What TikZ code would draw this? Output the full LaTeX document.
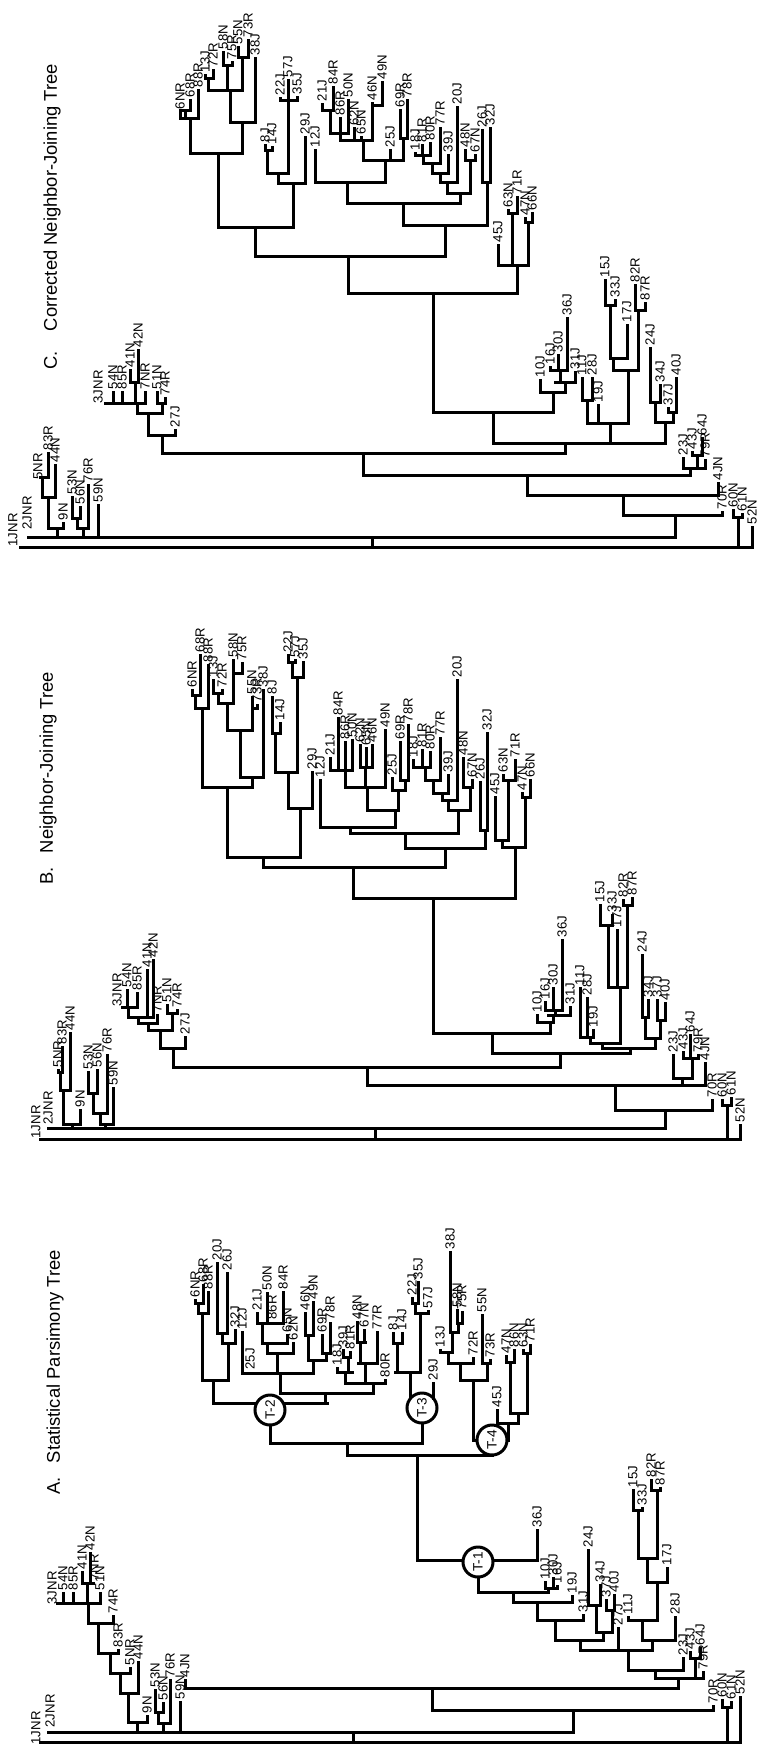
\documentclass[tikz,border=0pt]{standalone}
\usepackage{fontspec}
\setmainfont{Liberation Sans}
\begin{document}
\begin{tikzpicture}[
  x=0.5pt, y=-0.5pt,
  br/.style={line width=1.5pt, line cap=rect},
  lab/.style={rotate=90, anchor=west, inner sep=0.6pt, font=\fontsize{6.6}{7}\selectfont},
  tc/.style={circle, draw, fill=white, line width=1.5pt, minimum size=15pt, inner sep=0pt, rotate=90, font=\fontsize{6.8}{7}\selectfont},
  ttl/.style={rotate=90, anchor=west, inner sep=0pt, font=\fontsize{9.2}{11}\selectfont}
]
\useasboundingbox (0,0) rectangle (757,1747);

% Titles
\node[ttl] (ttlA) at (55,1495) {A.\hspace{7pt}Statistical Parsimony Tree};
\node[ttl] (ttlB) at (48,885) {B.\hspace{7pt}Neighbor-Joining Tree};
\node[ttl] (ttlC) at (52,370) {C.\hspace{10pt}Corrected Neighbor-Joining Tree};

%%%%%%%%%%%%%%%% A. Statistical parsimony tree
% connectors
\foreach \y/\a/\b in {1742/40/740, 1732/48/573, 1722/128/147, 1693/120/138, 1673/110/130,
  1653/98/118, 1623/88/113, 1603/57/100, 1583/82/93, 1723/158/170, 1712/155/163,
  1710/432/713, 1688/185/678, 1707/722/731, 1678/655/703, 1658/690/700, 1670/628/683,
  1650/580/652, 1640/642/675, 1620/628/657, 1582/647/667, 1558/638/657, 1510/633/642,
  1490/651/660, 1640/555/603, 1632/596/612, 1605/588/600, 1610/606/614, 1620/537/583,
  1602/513/572, 1592/478/548, 1588/545/557, 1560/417/537, 1455/347/492, 1443/270/422,
  1403/213/327, 1380/202/228, 1313/198/208, 1303/195/203, 1343/222/235, 1333/217/227,
  1393/280/373, 1373/242/313, 1353/267/293, 1343/262/287, 1323/257/283, 1360/308/326,
  1335/305/313, 1353/322/330, 1383/345/385, 1372/337/352, 1357/343/350, 1363/358/377,
  1342/357/365, 1372/395/420, 1343/393/402, 1313/415/428, 1303/412/418, 1440/473/508,
  1423/497/518, 1413/510/527, 1362/506/514, 1353/523/530, 1380/460/487, 1363/448/473,
  1352/440/452, 1332/450/458, 1323/457/462, 1363/482/490}
  \draw[br] (\a,\y) -- (\b,\y);
% inner branches
\foreach \x/\a/\b in {353/1732/1742, 137/1732/1722, 128/1722/1693, 120/1693/1673, 110/1673/1653,
  98/1653/1623, 88/1623/1603, 87/1603/1583, 163/1732/1723, 158/1723/1712, 573/1732/1710,
  432/1710/1688, 727/1742/1707, 678/1688/1678, 695/1678/1658, 655/1678/1670, 628/1670/1650,
  652/1650/1640, 580/1650/1640, 642/1640/1620, 657/1620/1582, 647/1582/1558, 638/1558/1510,
  657/1558/1490, 603/1640/1632, 596/1632/1605, 612/1632/1610, 555/1640/1620, 537/1620/1602,
  513/1602/1592, 548/1592/1588, 478/1592/1562, 417/1560/1455, 347/1455/1443, 270/1443/1403,
  213/1403/1380, 202/1380/1313, 198/1313/1303, 228/1380/1343, 222/1343/1333, 325/1403/1393,
  280/1393/1373, 277/1373/1353, 267/1353/1343, 262/1343/1323, 313/1373/1360, 308/1360/1335,
  326/1360/1353, 373/1393/1383, 345/1383/1372, 348/1372/1357, 365/1383/1363, 360/1363/1342,
  422/1443/1408, 410/1372/1408, 397/1372/1343, 420/1372/1313, 415/1313/1303, 473/1440/1380,
  460/1380/1363, 448/1363/1352, 452/1352/1332, 458/1332/1323, 487/1380/1363, 508/1440/1423,
  518/1423/1413, 510/1413/1362, 527/1413/1353, 492/1455/1440}
  \draw[br] (\x,\a) -- (\x,\b);
% circled nodes
\node[tc] (T1) at (478,1562) {T-1};
\node[tc] (T2) at (270,1410) {T-2};
\node[tc] (T3) at (422,1408) {T-3};
\node[tc] (T4) at (492,1440) {T-4};
% leaves
\foreach \x/\t/\b/\n in {147/1716/1722/9N, 138/1662/1693/44N, 130/1668/1673/5NR, 118/1650/1653/83R,
  113/1616/1623/74R, 100/1593/1603/51N, 63/1593/1603/54N, 73/1593/1603/85R, 82/1572/1583/41N,
  90/1553/1583/42N, 155/1690/1712/53N, 163/1703/1712/56N, 170/1680/1723/76R, 180/1702/1732/59N,
  713/1706/1710/70R, 185/1680/1688/4JN, 722/1700/1707/60N, 731/1702/1707/61N, 740/1697/1742/52N,
  703/1672/1678/79R, 690/1652/1658/43J, 700/1648/1658/64J, 683/1658/1670/23J, 618/1628/1650/27J,
  675/1617/1640/28J, 628/1617/1620/11J, 667/1568/1582/17J, 633/1490/1510/15J, 642/1508/1510/33J,
  651/1480/1490/82R, 660/1488/1490/87R, 588/1550/1605/24J, 600/1585/1605/34J, 606/1600/1610/37J,
  614/1595/1610/40J, 583/1615/1620/31J, 572/1596/1602/19J, 545/1582/1588/10J, 553/1578/1588/30J,
  557/1586/1588/16J, 537/1530/1560/36J, 195/1300/1303/6NR, 203/1285/1303/68R, 208/1292/1313/88R,
  217/1263/1333/20J, 227/1273/1333/26J, 235/1330/1343/32J, 242/1332/1373/12J, 257/1313/1323/21J,
  267/1293/1323/50N, 283/1292/1323/84R, 287/1335/1343/65N, 293/1343/1353/62N, 305/1313/1335/46N,
  313/1302/1335/49N, 322/1335/1353/69R, 330/1323/1353/78R, 385/1380/1383/80R, 337/1368/1372/18J,
  343/1350/1357/39J, 350/1352/1357/81R, 357/1322/1342/48N, 364/1330/1342/67N, 377/1332/1363/77R,
  393/1333/1343/8J, 402/1333/1343/14J, 412/1298/1303/22J, 418/1282/1303/35J, 428/1311/1313/57J,
  433/1383/1398/29J, 497/1410/1423/45J, 506/1356/1362/47N, 514/1350/1362/86N, 523/1350/1353/63N,
  530/1345/1353/71R, 440/1350/1352/13J, 450/1252/1332/38J, 457/1310/1323/58N, 462/1312/1323/75R,
  473/1358/1363/72R, 482/1315/1363/55N, 490/1360/1363/73R}
  \draw[br] (\x,\b) -- (\x,\t) node[lab] (A-\n) {\n};
\foreach \x/\y/\n in {36/1746/1JNR, 50/1729/2JNR, 52/1606/3JNR, 94/1582/7NR, 272/1321/86R, 250/1371/25J}
  \node[lab] (A-\n) at (\x,\y) {\n};

%%%%%%%%%%%%%%%% B. Neighbor-joining tree
% connectors
\foreach \y/\a/\b in {1139/40/740, 1128/48/665, 1124/63/80, 1090/60/70, 1072/58/62, 1124/100/113,
  1113/93/107, 1093/88/97, 1110/615/712, 1085/367/705, 1078/673/692, 1058/683/698, 1105/722/731,
  1067/173/560, 1048/160/185, 1030/148/172, 1013/167/177, 1023/138/157, 1017/128/153, 1007/122/137,
  1053/492/630, 1048/602/655, 1043/590/620, 1037/580/593, 987/608/627, 925/600/612, 905/623/632,
  1038/645/660, 1017/642/648, 1020/657/665, 1033/433/550, 1022/537/553, 1015/548/570, 1010/545/562,
  898/353/515, 847/502/525, 840/495/508, 780/503/515, 797/522/530, 867/263/445, 857/227/300,
  787/202/252, 708/195/208, 695/192/200, 777/240/263, 730/227/252, 703/218/233, 693/213/222,
  673/233/242, 708/252/257, 808/288/312, 772/275/297, 733/272/280, 677/292/303, 662/288/295,
  848/405/485, 830/480/487, 833/350/458, 827/320/395, 810/367/398, 790/392/405, 780/400/408,
  787/345/385, 770/330/352, 767/360/372, 810/448/470, 800/442/457, 793/433/448, 780/425/440,
  767/413/430, 787/463/472}
  \draw[br] (\a,\y) -- (\b,\y);
% inner branches
\foreach \x/\a/\b in {375/1128/1139, 72/1128/1124, 63/1124/1090, 60/1090/1072, 105/1128/1124,
  100/1124/1113, 93/1113/1093, 665/1128/1110, 615/1110/1085, 367/1085/1067, 682/1085/1078,
  692/1078/1058, 727/1139/1105, 173/1067/1048, 160/1048/1030, 172/1030/1013, 148/1030/1023,
  138/1023/1017, 128/1017/1007, 560/1067/1053, 630/1053/1048, 602/1048/1043, 590/1043/1037,
  620/1043/987, 608/987/925, 627/987/905, 655/1048/1038, 645/1038/1017, 660/1038/1020,
  492/1053/1033, 433/1033/898, 550/1033/1022, 553/1022/1015, 555/1015/1010, 515/898/847,
  502/847/840, 508/840/780, 525/847/797, 353/898/867, 263/867/857, 227/857/787, 202/787/708,
  195/708/695, 252/787/777, 240/777/730, 227/730/703, 218/703/693, 233/703/673, 252/730/708,
  300/857/808, 288/808/772, 275/772/733, 297/772/677, 292/677/662, 445/867/848, 485/848/830,
  405/848/833, 350/833/827, 395/827/810, 398/810/790, 405/790/780, 367/810/787, 345/787/770,
  365/787/767, 458/833/810, 448/810/800, 442/800/793, 433/793/780, 425/780/767, 470/810/787}
  \draw[br] (\x,\a) -- (\x,\b);
% leaves
\foreach \x/\t/\b/\n in {80/1110/1124/9N, 58/1070/1072/5NR, 62/1047/1072/83R, 70/1033/1090/44N,
  88/1072/1093/53N, 97/1070/1093/56N, 107/1055/1113/76R, 113/1088/1124/59N, 712/1100/1110/70R,
  705/1063/1085/4JN, 673/1055/1078/23J, 683/1052/1058/43J, 690/1035/1058/64J, 698/1055/1058/79R,
  722/1100/1105/60N, 731/1098/1105/61N, 740/1125/1139/52N, 185/1037/1048/27J, 167/1005/1013/51N,
  177/1010/1013/74R, 157/1015/1023/7NR, 147/970/1017/41N, 153/960/1017/42N, 127/990/1007/54N,
  137/993/1007/85R, 580/988/1037/11J, 587/998/1037/28J, 593/1030/1037/19J, 617/930/987/17J,
  600/905/925/15J, 612/915/925/33J, 623/900/905/82R, 632/898/905/87R, 642/955/1017/24J,
  648/1000/1017/34J, 657/1000/1020/37J, 665/1003/1020/40J, 537/1015/1022/10J, 570/1007/1015/31J,
  545/1002/1010/16J, 553/988/1010/30J, 562/940/1010/36J, 495/797/840/45J, 503/775/780/63N,
  515/760/780/71R, 522/793/797/47N, 530/780/797/66N, 192/690/695/6NR, 200/655/695/68R,
  208/665/708/88R, 213/680/693/13J, 222/690/693/72R, 233/660/673/58N, 242/663/673/75R,
  252/697/708/55N, 257/705/708/73R, 263/690/777/38J, 272/697/733/8J, 280/723/733/14J,
  288/655/662/22J, 295/660/662/57J, 303/662/677/35J, 312/772/808/29J, 480/782/830/26J,
  487/733/830/32J, 320/780/827/12J, 392/778/790/25J, 400/742/780/69R, 408/725/780/78R,
  385/730/787/49N, 330/758/770/21J, 338/718/770/84R, 345/742/770/86R, 352/740/770/50N,
  360/745/767/62N, 366/748/767/65N, 372/745/767/46N, 457/680/800/20J, 448/775/793/39J,
  440/738/780/77R, 413/760/767/18J, 422/750/767/81R, 430/752/767/80R, 463/758/787/48N,
  472/780/787/67N}
  \draw[br] (\x,\b) -- (\x,\t) node[lab] (B-\n) {\n};
\foreach \x/\y/\n in {36/1140/1JNR, 48/1126/2JNR, 117/1008/3JNR}
  \node[lab] (B-\n) at (\x,\y) {\n};

%%%%%%%%%%%%%%%% C. Corrected neighbor-joining tree
% connectors
\foreach \y/\a/\b in {547/20/752, 537/28/675, 528/48/63, 497/42/55, 477/40/48, 528/77/88, 518/72/80,
  453/162/565, 475/363/690, 495/527/718, 515/623/722, 517/733/742, 468/683/705, 455/692/702,
  435/148/175, 413/137/162, 403/157/165, 403/105/145, 382/130/138, 443/493/665, 412/433/553,
  392/540/565, 382/555/575, 370/550/567, 423/587/628, 400/582/592, 370/613/638, 358/610/627,
  305/605/615, 310/635/645, 422/655/673, 402/650/660, 412/668/676, 293/348/517, 256/255/445,
  227/218/293, 153/190/242, 118/180/198, 110/180/190, 122/230/255, 90/208/242, 78/205/213,
  65/223/232, 57/238/248, 183/278/305, 173/267/288, 150/265/272, 100/280/297, 225/403/487,
  182/482/490, 203/347/460, 193/447/470, 160/465/475, 182/440/457, 173/432/448, 163/423/440,
  155/415/430, 182/315/385, 160/363/403, 138/400/407, 140/340/372, 133/330/348, 110/322/333,
  105/372/382, 265/498/528, 213/508/517, 222/525/532}
  \draw[br] (\a,\y) -- (\b,\y);
% inner branches
\foreach \x/\a/\b in {372/537/547, 57/537/528, 48/528/497, 42/497/477, 83/537/528, 77/528/518,
  363/475/453, 162/453/435, 565/453/443, 148/435/413, 162/413/403, 137/413/403, 135/403/382,
  527/495/475, 623/515/495, 675/537/515, 690/475/468, 697/468/455, 738/547/517, 493/443/412,
  433/412/293, 553/412/392, 565/392/382, 560/382/370, 610/443/423, 587/423/400, 628/423/370,
  613/370/358, 610/358/305, 638/370/310, 665/443/422, 655/422/402, 673/422/412, 517/293/265,
  512/265/213, 528/265/222, 348/293/256, 255/256/227, 218/227/153, 190/153/118, 185/118/110,
  242/153/122, 230/122/90, 208/90/78, 227/90/65, 242/90/57, 293/227/183, 278/183/173,
  267/173/150, 288/173/100, 445/256/225, 487/225/182, 403/225/203, 460/203/193, 470/193/160,
  447/193/182, 440/182/173, 432/173/163, 423/163/155, 347/203/182, 385/182/160, 363/160/140,
  403/160/138, 340/140/133, 330/133/110, 372/140/105}
  \draw[br] (\x,\a) -- (\x,\b);
% leaves
\foreach \x/\t/\b/\n in {63/523/528/9N, 55/465/497/44N, 48/453/477/83R, 72/497/518/53N,
  80/507/518/56N, 88/485/528/76R, 98/505/537/59N, 718/483/495/4JN, 722/512/515/70R,
  733/510/517/60N, 742/514/517/61N, 752/527/547/52N, 683/458/468/23J, 705/460/468/79R,
  692/452/455/43J, 702/438/455/64J, 175/430/435/27J, 157/392/403/51N, 165/398/403/74R,
  113/392/403/54N, 122/392/403/85R, 145/392/403/7NR, 130/370/382/41N, 138/350/382/42N,
  540/380/392/10J, 575/372/382/31J, 550/367/370/16J, 558/355/370/30J, 567/318/370/36J,
  582/378/400/11J, 592/378/400/28J, 598/405/423/19J, 605/280/305/15J, 615/300/305/33J,
  627/325/358/17J, 635/285/310/82R, 645/303/310/87R, 650/348/402/24J, 660/385/402/34J,
  668/408/412/37J, 676/378/412/40J, 498/245/265/45J, 508/210/213/63N, 517/197/213/71R,
  525/218/222/47N, 532/213/222/66N, 180/112/118/6NR, 190/100/110/68R, 198/90/118/88R,
  255/58/122/38J, 205/75/78/13J, 213/70/78/72R, 223/52/65/58N, 232/62/65/75R, 238/47/57/55N,
  248/40/57/73R, 265/145/150/8J, 272/147/150/14J, 280/98/100/22J, 288/80/100/57J,
  297/97/100/35J, 305/137/183/29J, 482/130/182/26J, 490/128/182/32J, 457/107/182/20J,
  465/150/160/48N, 475/155/160/67N, 448/155/173/39J, 440/128/163/77R, 415/153/155/18J,
  422/145/155/81R, 430/143/155/80R, 315/150/182/12J, 390/150/160/25J, 400/110/138/69R,
  407/100/138/78R, 322/104/110/21J, 333/87/110/84R, 340/118/133/86R, 348/100/133/50N,
  354/128/140/62N, 361/137/140/65N, 372/103/105/46N, 382/82/105/49N}
  \draw[br] (\x,\b) -- (\x,\t) node[lab] (C-\n) {\n};
\foreach \x/\y/\n in {13/548/1JNR, 27/531/2JNR, 38/481/5NR, 98/405/3JNR}
  \node[lab] (C-\n) at (\x,\y) {\n};

\end{tikzpicture}
\end{document}
